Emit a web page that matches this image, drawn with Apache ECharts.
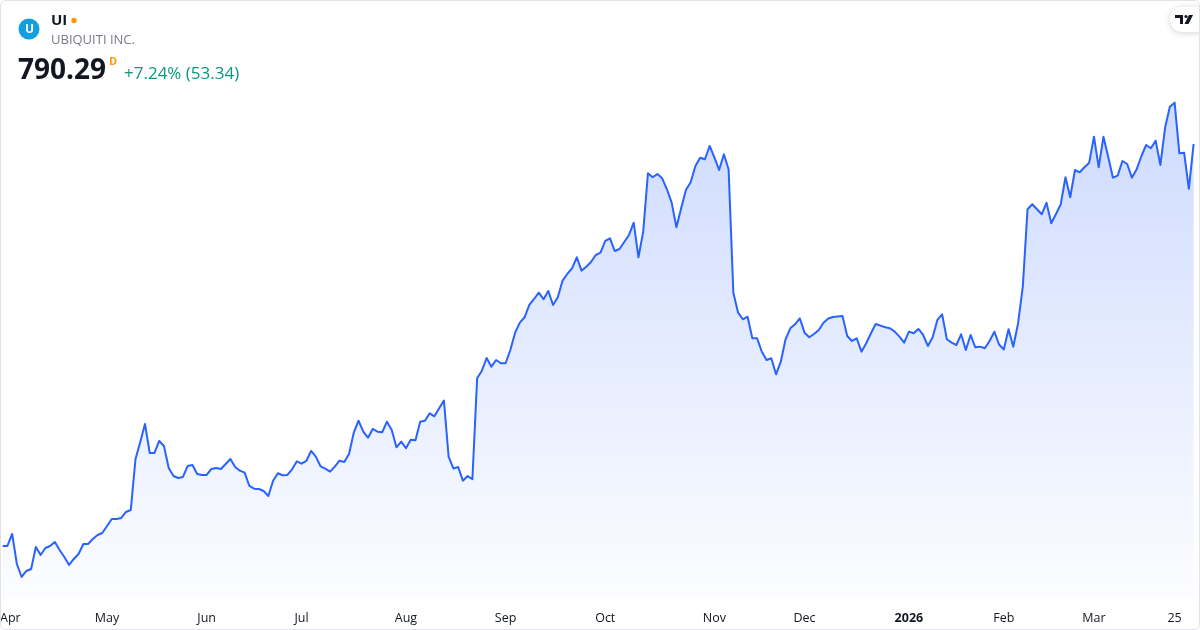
<!DOCTYPE html>
<html>
<head>
<meta charset="utf-8">
<script src="https://cdn.jsdelivr.net/npm/echarts@6/dist/echarts.min.js"></script>
<style>
html,body{margin:0;padding:0;background:#ffffff;}
#wrap{position:relative;width:1200px;height:630px;}
#chart{position:absolute;left:0;top:0;width:1200px;height:630px;}
#frame{position:absolute;left:0;top:0;width:1200px;height:630px;box-sizing:border-box;border:1px solid #e0e3eb;border-radius:6px;pointer-events:none;}
</style>
</head>
<body>
<div id="wrap"><div id="chart"></div><div id="frame"></div></div>
<script>
// ---- data ----
const symbol = 'UI';
const companyName = 'UBIQUITI INC.';
const lastPrice = '790.29';
const changeText = '+7.24% (53.34)';

const startDate = '2025-03-31';
const endDate = '2026-03-31';
const holidays = ['2025-04-18','2025-05-26','2025-06-19','2025-07-04','2025-09-01',
                  '2025-11-27','2025-12-25','2026-01-01','2026-01-19','2026-02-16'];

const closes = [
  311.91, 311.91, 326.19, 290.49, 275.02, 282.16, 284.54, 310.72, 301.20, 309.53,
  311.91, 316.67, 307.15, 298.82, 289.30, 296.44, 302.39, 314.29, 314.29, 320.24,
  325.00, 327.38, 335.71, 344.04, 344.04, 345.23, 352.37, 354.75, 415.44, 435.67,
  457.09, 422.58, 422.58, 436.86, 430.91, 404.73, 395.21, 392.83, 394.02, 407.11,
  408.30, 397.59, 396.40, 396.40, 403.54, 404.73, 403.54, 409.49, 415.44, 405.92,
  401.52, 399.14, 383.31, 380.10, 379.74, 377.36, 371.41, 389.62, 398.42, 396.04,
  396.40, 403.18, 412.70, 409.85, 413.06, 424.96, 418.18, 406.75, 403.90, 400.33,
  406.28, 413.42, 411.87, 421.39, 446.74, 461.02, 447.93, 440.79, 451.14, 447.93,
  447.21, 459.83, 449.95, 429.36, 436.03, 428.17, 438.41, 437.69, 459.83, 461.02,
  469.82, 466.25, 475.77, 485.05, 417.82, 404.13, 405.92, 389.62, 395.21, 391.28,
  511.47, 520.52, 535.63, 525.28, 533.25, 529.32, 529.32, 545.15, 565.74, 577.64,
  584.06, 598.70, 605.84, 613.34, 605.48, 615.36, 598.70, 607.86, 627.62, 635.59,
  642.37, 655.46, 639.52, 644.28, 649.87, 658.20, 660.94, 674.86, 678.07, 662.96,
  665.34, 673.67, 682.00, 696.64, 655.46, 685.93, 755.42, 750.66, 754.59, 749.47,
  736.38, 720.44, 691.16, 713.77, 735.55, 744.71, 764.11, 773.99, 772.08, 787.91,
  774.46, 759.35, 778.03, 760.18, 613.34, 589.54, 581.68, 584.78, 559.07, 559.07,
  543.13, 533.25, 535.27, 516.23, 531.23, 557.88, 570.97, 575.73, 582.87, 565.74,
  560.26, 564.19, 568.95, 577.64, 582.63, 584.42, 585.01, 585.61, 561.81, 555.86,
  559.07, 543.13, 553.12, 565.02, 576.09, 574.07, 572.16, 570.97, 566.93, 560.98,
  553.84, 566.93, 565.02, 570.14, 563.00, 549.91, 560.26, 580.85, 587.63, 557.88,
  553.84, 551.10, 563.83, 545.15, 563.00, 548.36, 549.08, 547.17, 555.86, 566.93,
  551.69, 545.74, 569.78, 549.08, 576.68, 620.12, 712.58, 718.53, 712.58, 706.63,
  720.44, 695.92, 706.99, 718.53, 750.66, 726.86, 759.35, 756.61, 762.56, 768.04,
  798.98, 762.56, 798.98, 775.18, 750.19, 752.57, 770.06, 766.49, 750.19, 760.18,
  776.01, 789.10, 785.17, 794.22, 765.30, 810.16, 834.68, 839.44, 779.22, 779.94,
  736.95, 790.29
];

const tickDates = ['2025-04-01','2025-05-01','2025-06-02','2025-07-01','2025-08-01','2025-09-02',
                   '2025-10-01','2025-11-03','2025-12-01','2026-01-02','2026-02-02','2026-03-02','2026-03-25'];
const tickTexts = ['Apr','May','Jun','Jul','Aug','Sep','Oct','Nov','Dec','2026','Feb','Mar','25'];

// ---- trading-day categories ----
function tradingDays() {
  const out = [];
  let d = new Date(startDate + 'T00:00:00Z');
  const end = new Date(endDate + 'T00:00:00Z');
  while (d <= end) {
    const s = d.toISOString().slice(0, 10);
    const w = d.getUTCDay();
    if (w !== 0 && w !== 6 && holidays.indexOf(s) < 0) out.push(s);
    d = new Date(d.getTime() + 86400000);
  }
  return out;
}
const dates = tradingDays();

const FONT = '"Open Sans", "Noto Sans", sans-serif';
const chart = echarts.init(document.getElementById('chart'), null, {renderer: 'canvas'});

chart.setOption({
  animation: false,
  backgroundColor: '#ffffff',
  grid: {left: 2.65, right: 6.4, top: 77, bottom: 32, containLabel: false, outerBoundsMode: 'none'},
  xAxis: {
    type: 'category',
    data: dates,
    boundaryGap: false,
    axisLine: {show: false},
    axisTick: {show: false},
    splitLine: {show: false},
    axisLabel: {
      interval: function (idx, val) { return tickDates.indexOf(val) >= 0; },
      formatter: function (val) {
        const k = tickDates.indexOf(val);
        const t = tickTexts[k];
        if (t === '2026') return '{b|' + t + '}';
        if (k === 0) return '{f|' + t + '}';
        return t;
      },
      color: '#131722',
      fontSize: 12.5,
      fontFamily: FONT,
      margin: 14,
      hideOverlap: false,
      rich: {
        b: {fontWeight: 'bold', fontSize: 12.5, color: '#131722', fontFamily: FONT},
        f: {fontSize: 12.5, color: '#131722', fontFamily: FONT, padding: [0, 0, 0, 6]}
      }
    }
  },
  yAxis: {
    type: 'value',
    min: 250,
    max: 870,
    show: false,
    splitLine: {show: false}
  },
  series: [{
    type: 'line',
    data: closes,
    showSymbol: false,
    symbol: 'none',
    smooth: false,
    lineStyle: {color: '#2962ff', width: 2, join: 'round'},
    areaStyle: {
      color: new echarts.graphic.LinearGradient(0, 0, 0, 1, [
        {offset: 0, color: 'rgba(41,98,255,0.33)'},
        {offset: 1, color: 'rgba(41,98,255,0.02)'}
      ])
    }
  }],
  graphic: [
    {type: 'circle', shape: {cx: 29, cy: 29, r: 10.5}, style: {fill: '#119fe0'}},
    {type: 'text', style: {text: 'U', x: 29.5, y: 30, fill: '#ffffff', font: 'bold 12px ' + FONT, align: 'center', verticalAlign: 'middle'}},
    {type: 'text', style: {text: symbol, x: 51, y: 20.5, fill: '#131722', font: 'bold 15px ' + FONT, align: 'left', verticalAlign: 'middle'}},
    {type: 'circle', shape: {cx: 74, cy: 20.5, r: 2.7}, style: {fill: '#ff9800'}},
    {type: 'text', style: {text: companyName, x: 51, y: 40.5, fill: '#787b86', font: '13px ' + FONT, align: 'left', verticalAlign: 'middle'}},
    {type: 'text', style: {text: lastPrice, x: 18, y: 71.5, fill: '#131722', font: 'bold 28px ' + FONT, align: 'left', verticalAlign: 'middle'}},
    {type: 'text', style: {text: 'D', x: 109, y: 62, fill: '#ff9800', font: 'bold 11px ' + FONT, align: 'left', verticalAlign: 'middle'}},
    {type: 'text', style: {text: changeText, x: 124, y: 74, fill: '#089981', font: '17px ' + FONT, align: 'left', verticalAlign: 'middle'}},
    {type: 'rect', shape: {x: 1170, y: 7, width: 42, height: 25, r: 12},
     style: {fill: '#ffffff', shadowBlur: 6, shadowColor: 'rgba(0,0,0,0.18)', shadowOffsetY: 1}},
    {type: 'polygon', shape: {points: [[1175, 15], [1183, 15], [1183, 24], [1180, 24], [1180, 18], [1175, 18]]}, style: {fill: '#131722'}},
    {type: 'circle', shape: {cx: 1186, cy: 16.5, r: 1.6}, style: {fill: '#131722'}},
    {type: 'polygon', shape: {points: [[1189, 15], [1193, 15], [1188.5, 24], [1184.5, 24]]}, style: {fill: '#131722'}}
  ]
});
</script>
</body>
</html>
